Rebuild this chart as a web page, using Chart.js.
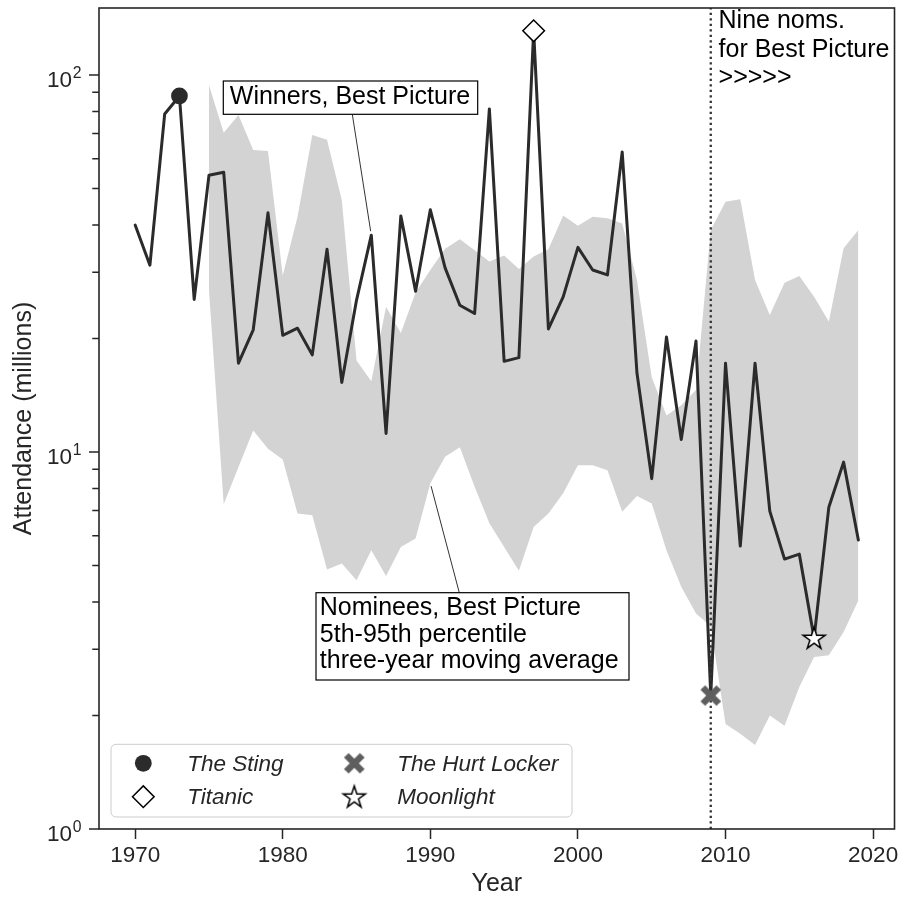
<!DOCTYPE html>
<html>
<head>
<meta charset="utf-8">
<script src="https://cdn.jsdelivr.net/npm/chart.js@4.4.1/dist/chart.umd.min.js"></script>
<style>
html,body{margin:0;padding:0;background:#ffffff;overflow:hidden;}
canvas{display:block;}
</style>
</head>
<body>
<canvas id="chart" width="902" height="901" style="width:902px;height:901px"></canvas>
<script>
// ---------------- data ----------------
const years = [1970,1971,1972,1973,1974,1975,1976,1977,1978,1979,
               1980,1981,1982,1983,1984,1985,1986,1987,1988,1989,
               1990,1991,1992,1993,1994,1995,1996,1997,1998,1999,
               2000,2001,2002,2003,2004,2005,2006,2007,2008,2009,
               2010,2011,2012,2013,2014,2015,2016,2017,2018,2019];
const winnerAttendance = [40.0,31.3,78.8,88.0,25.4,54.2,55.2,17.2,21.1,43.1,
                          20.4,21.3,18.1,34.5,15.3,25.3,37.6,11.2,42.3,26.7,
                          43.9,30.8,24.5,23.3,81.3,17.4,17.8,131,21.2,25.8,
                          34.9,30.4,29.5,62.5,16.2,8.5,20.2,10.8,19.7,2.26,
                          17.2,5.63,17.2,6.97,5.2,5.36,3.21,7.14,9.4,5.84];
const bandYears = [1975,1976,1977,1978,1979,1980,1981,1982,1983,1984,
                   1985,1986,1987,1988,1989,1990,1991,1992,1993,1994,
                   1995,1996,1997,1998,1999,2000,2001,2002,2003,2004,
                   2005,2006,2007,2008,2009,2010,2011,2012,2013,2014,
                   2015,2016,2017,2018,2019];
const nomineeP95 = [94.1,70.3,78.4,63.3,62.9,29.4,42.1,69.3,67.3,46.6,
                    17.5,15.4,24.3,20.7,26.5,30.4,34.6,36.7,34.3,32.0,
                    33.2,30.6,33.0,34.5,42.4,39.8,42.1,41.7,40.4,28.6,
                    15.8,12.5,13.3,14.6,38.8,46.1,46.8,28.6,23.1,28.1,
                    29.3,25.8,22.2,34.7,38.8];
const nomineeP05 = [26.9,7.27,9.12,11.4,10.2,9.56,6.87,6.8,4.88,5.06,
                    4.57,5.49,4.69,5.6,5.9,8.26,9.71,10.3,8.09,6.47,
                    5.6,4.84,6.33,6.87,7.77,9.23,9.23,8.95,6.94,7.64,
                    7.3,5.49,4.39,3.73,3.45,1.9,1.79,1.67,2.0,1.88,
                    2.38,2.86,2.89,3.33,4.04];
const xTickValues = [1970,1980,1990,2000,2010,2020];
const yMajorTickValues = [1,10,100];
const yMajorTickExponents = ['0','1','2'];
const yMinorTickValues = [2,3,4,5,6,7,8,9,20,30,40,50,60,70,80,90];
const highlightFilms = ['The Sting','Titanic','The Hurt Locker','Moonlight'];
const highlightYears = [1973,1997,2009,2016];
const ruleChangeYear = 2009;
const winnersLabel = 'Winners, Best Picture';
const winnersLabelYear = 1986;
const nomineesLabel = ['Nominees, Best Picture','5th-95th percentile','three-year moving average'];
const nomineesLabelYear = 1990;
const ruleLabel = ['Nine noms.','for Best Picture','>>>>>'];

// ---------------- styling ----------------
const FONT = "'Liberation Sans', Arial, Helvetica, sans-serif";
const INK = '#262626';
const LINE = '#2b2b2b';
const BAND = '#d3d3d3';

function xy(xs, vs){ return xs.map((x,i)=>({x:x, y:vs[i]})); }
function winnerAt(y){ return winnerAttendance[years.indexOf(y)]; }
function lowerAt(y){ return nomineeP05[bandYears.indexOf(y)]; }

const xMarker = (function(){
  const c=document.createElement('canvas'); c.width=26; c.height=26;
  const g=c.getContext('2d');
  g.strokeStyle='#5e5e5e'; g.lineWidth=6.6; g.lineCap='butt';
  g.beginPath(); g.moveTo(5,5); g.lineTo(21,21); g.moveTo(21,5); g.lineTo(5,21); g.stroke();
  return c;
})();
const starMarker = (function(){
  const c=document.createElement('canvas'); c.width=28; c.height=28;
  const g=c.getContext('2d');
  const cx=14, cy=14.8, ro=11.6, ri=ro*0.382;
  g.beginPath();
  for(let i=0;i<10;i++){
    const r = i%2===0 ? ro : ri;
    const a = -Math.PI/2 + i*Math.PI/5;
    const px = cx + r*Math.cos(a), py = cy + r*Math.sin(a);
    if(i===0) g.moveTo(px,py); else g.lineTo(px,py);
  }
  g.closePath();
  g.fillStyle='#ffffff'; g.fill();
  g.strokeStyle='#000000'; g.lineWidth=1.5; g.lineJoin='miter'; g.stroke();
  return c;
})();

const markerStyles = [
  {pointStyle:'circle', radius:8.4, fill:LINE, stroke:LINE, bw:0},
  {pointStyle:'rectRot', radius:10.8, fill:'#ffffff', stroke:'#000000', bw:1.5},
  {pointStyle:xMarker, radius:11, fill:'#5e5e5e', stroke:'#5e5e5e', bw:0},
  {pointStyle:starMarker, radius:12, fill:'#ffffff', stroke:'#000000', bw:1.5}
];

const markerDatasets = highlightFilms.map((name,i)=>({
  label: name,
  data: [{x: highlightYears[i], y: winnerAt(highlightYears[i])}],
  showLine: false,
  pointStyle: markerStyles[i].pointStyle,
  pointRadius: markerStyles[i].radius,
  pointBackgroundColor: markerStyles[i].fill,
  pointBorderColor: markerStyles[i].stroke,
  pointBorderWidth: markerStyles[i].bw,
  order: 1
}));

function drawLegendMarker(ctx, i, x, y){
  const s = markerStyles[i];
  ctx.save();
  if (i===0){
    ctx.beginPath(); ctx.arc(x,y,s.radius,0,Math.PI*2); ctx.fillStyle=s.fill; ctx.fill();
  } else if (i===1){
    const r=s.radius;
    ctx.beginPath(); ctx.moveTo(x-r,y); ctx.lineTo(x,y-r); ctx.lineTo(x+r,y); ctx.lineTo(x,y+r); ctx.closePath();
    ctx.fillStyle=s.fill; ctx.fill(); ctx.lineWidth=s.bw; ctx.strokeStyle=s.stroke; ctx.stroke();
  } else {
    const img = s.pointStyle;
    ctx.drawImage(img, x-img.width/2, y-img.height/2);
  }
  ctx.restore();
}

const overlay = {
  id: 'overlay',
  afterDraw(chart){
    const ctx = chart.ctx;
    const a = chart.chartArea;
    const xs = chart.scales.x, ys = chart.scales.y;
    ctx.save();
    // frame
    ctx.strokeStyle = INK; ctx.lineWidth = 1.6;
    ctx.strokeRect(a.left, a.top, a.right-a.left, a.bottom-a.top);
    // y ticks
    ctx.lineWidth = 1.5;
    ctx.beginPath();
    yMinorTickValues.forEach(v=>{ const p=ys.getPixelForValue(v); ctx.moveTo(a.left-6.7,p); ctx.lineTo(a.left,p); });
    yMajorTickValues.forEach(v=>{ const p=ys.getPixelForValue(v); ctx.moveTo(a.left-10,p); ctx.lineTo(a.left,p); });
    ctx.stroke();
    // y tick labels 10^k
    ctx.fillStyle = INK;
    yMajorTickValues.forEach((v,i)=>{
      const p = ys.getPixelForValue(v);
      ctx.font = '22.5px ' + FONT;
      ctx.textAlign = 'right'; ctx.textBaseline = 'alphabetic';
      const baseRight = a.left - 27;
      ctx.fillText('10', baseRight, p + 12.3);
      ctx.font = '15.75px ' + FONT;
      ctx.textAlign = 'left';
      ctx.fillText(yMajorTickExponents[i], baseRight + 0.8, p + 3.2);
    });

    // annotation: winners
    ctx.fillStyle = '#000000';
    ctx.font = '25px ' + FONT;
    ctx.textAlign = 'left'; ctx.textBaseline = 'alphabetic';
    const wb = {x: a.left+124.3, y: a.top+73, w: 254.4, h: 33.3};
    const wAnchorX = xs.getPixelForValue(winnersLabelYear), wAnchorY = ys.getPixelForValue(winnerAt(winnersLabelYear));
    ctx.strokeStyle = '#333333'; ctx.lineWidth = 1;
    ctx.beginPath();
    const ws = {x: wb.x+129, y: wb.y+wb.h};
    let dx = wAnchorX-ws.x, dy = wAnchorY-ws.y, dl = Math.hypot(dx,dy);
    ctx.moveTo(ws.x, ws.y); ctx.lineTo(wAnchorX - dx/dl*4, wAnchorY - dy/dl*4);
    ctx.stroke();
    ctx.fillStyle = '#ffffff'; ctx.fillRect(wb.x, wb.y, wb.w, wb.h);
    ctx.strokeStyle = '#000000'; ctx.lineWidth = 1.2; ctx.strokeRect(wb.x, wb.y, wb.w, wb.h);
    ctx.fillStyle = '#000000';
    ctx.fillText(winnersLabel, wb.x + 6.5, wb.y + 23);

    // annotation: nominees
    const nb = {x: a.left+217, y: a.top+584.7, w: 313, h: 87.3};
    const nAnchorX = xs.getPixelForValue(nomineesLabelYear), nAnchorY = ys.getPixelForValue(lowerAt(nomineesLabelYear));
    const ns = {x: nb.x+143.3, y: nb.y};
    dx = ns.x-nAnchorX; dy = ns.y-nAnchorY; dl = Math.hypot(dx,dy);
    ctx.strokeStyle = '#333333'; ctx.lineWidth = 1;
    ctx.beginPath(); ctx.moveTo(nAnchorX + dx/dl*3, nAnchorY + dy/dl*3); ctx.lineTo(ns.x, ns.y); ctx.stroke();
    ctx.fillStyle = '#ffffff'; ctx.fillRect(nb.x, nb.y, nb.w, nb.h);
    ctx.strokeStyle = '#000000'; ctx.lineWidth = 1.2; ctx.strokeRect(nb.x, nb.y, nb.w, nb.h);
    ctx.fillStyle = '#000000';
    nomineesLabel.forEach((t,i)=>{ ctx.fillText(t, nb.x + 3.8, nb.y + 22.3 + i*26.7); });

    // annotation: nine nominees
    const rx = xs.getPixelForValue(ruleChangeYear) + 7.8;
    ruleLabel.forEach((t,i)=>{ ctx.fillText(t, rx, a.top + 20.3 + i*28.4); });

    // legend
    const lb = {x: a.left+12, y: a.bottom-84.7, w: 461, h: 72.7};
    ctx.beginPath();
    if (ctx.roundRect) ctx.roundRect(lb.x, lb.y, lb.w, lb.h, 5); else ctx.rect(lb.x, lb.y, lb.w, lb.h);
    ctx.fillStyle = 'rgba(255,255,255,0.8)'; ctx.fill();
    ctx.strokeStyle = '#cccccc'; ctx.lineWidth = 1; ctx.stroke();
    const colMarkerX = [lb.x+32.3, lb.x+243.3];
    const colTextX = [lb.x+76.3, lb.x+286.3];
    const rowY = [lb.y+19, lb.y+52.4];
    ctx.font = 'italic 22.5px ' + FONT;
    ctx.fillStyle = INK;
    highlightFilms.forEach((name,i)=>{
      const col = Math.floor(i/2), row = i%2;
      drawLegendMarker(ctx, i, colMarkerX[col], rowY[row]);
      ctx.fillStyle = INK;
      ctx.fillText(name, colTextX[col], rowY[row] + 7.5);
    });
    ctx.restore();
  }
};

new Chart(document.getElementById('chart'), {
  type: 'line',
  data: {
    datasets: [
      {label:'p95', data: xy(bandYears, nomineeP95), borderColor:'rgba(0,0,0,0)', borderWidth:0, pointRadius:0, backgroundColor: BAND, fill:'+1', order:10},
      {label:'p05', data: xy(bandYears, nomineeP05), borderColor:'rgba(0,0,0,0)', borderWidth:0, pointRadius:0, fill:false, order:11},
      {label:'Winners', data: xy(years, winnerAttendance), borderColor: LINE, borderWidth:3, pointRadius:0, fill:false, order:5, borderJoinStyle:'round', borderCapStyle:'round', tension:0},
      {label:'rule', data:[{x:ruleChangeYear,y:1},{x:ruleChangeYear,y:150.6}], borderColor:'#333333', borderWidth:2.3, borderDash:[2.3,3.2], pointRadius:0, fill:false, order:4},
      ...markerDatasets
    ]
  },
  options: {
    responsive: false,
    animation: false,
    devicePixelRatio: 1,
    events: [],
    layout: {autoPadding: false, padding: {top: 8, right: 6, left: 0, bottom: 0}},
    plugins: {legend: {display:false}, tooltip: {enabled:false}, title:{display:false}},
    scales: {
      x: {
        type: 'linear', min: 1967.55, max: 2021.45,
        afterBuildTicks: s => { s.ticks = xTickValues.map(v=>({value:v})); },
        afterFit: s => { s.height = 72; },
        grid: {display:true, drawOnChartArea:false, drawTicks:true, tickLength:10, tickWidth:1.5, tickColor:INK, color:INK},
        border: {display:false},
        ticks: {color:INK, font:{family:FONT, size:22.5}, padding:3.7, maxRotation:0, autoSkip:false, callback: v => String(v)},
        title: {display:true, text:'Year', color:INK, font:{family:FONT, size:25}, padding:{top:0, bottom:2}}
      },
      y: {
        type: 'logarithmic', min: 1, max: 150.6,
        afterFit: s => { s.width = 99; },
        grid: {display:false},
        border: {display:false},
        ticks: {display:false},
        title: {display:true, text:'Attendance (millions)', color:INK, font:{family:FONT, size:25}, padding:{top:9.6, bottom:0}}
      }
    }
  },
  plugins: [overlay]
});
</script>
</body>
</html>
